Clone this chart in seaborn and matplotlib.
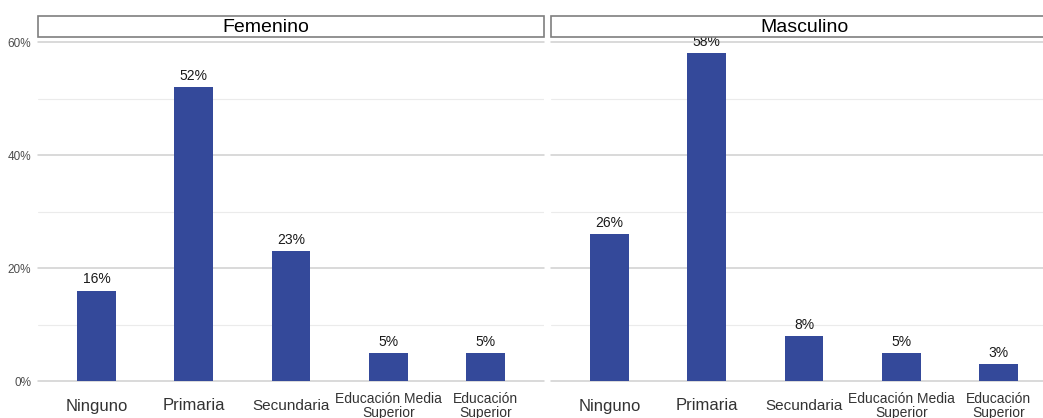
import matplotlib
matplotlib.use('Agg')
import matplotlib.pyplot as plt
from matplotlib.patches import Rectangle
import pandas as pd
import seaborn as sns

# Data
niveles = ['Ninguno', 'Primaria', 'Secundaria', 'Educación Media\nSuperior', 'Educación\nSuperior']
femenino = [16, 52, 23, 5, 5]
masculino = [26, 58, 8, 5, 3]
paneles = ['Femenino', 'Masculino']
y_ticks = [0, 20, 40, 60]
y_minor = [10, 30, 50]

# per-label font size, the reference shrinks the longer labels
label_sizes = [12, 12, 11, 10, 10]

BAR_COLOR = '#34499a'

sns.set_theme(style='white')
plt.rcParams['font.family'] = ['Liberation Sans', 'DejaVu Sans']

W, H = 1043, 418
fig = plt.figure(figsize=(W / 100, H / 100), dpi=100)


def px_box(x0, x1, y_top, y_bottom):
    # convert pixel box to figure fraction [left, bottom, width, height]
    return [x0 / W, (H - y_bottom) / H, (x1 - x0) / W, (y_bottom - y_top) / H]


panel_x = [(38, 544), (551, 1057)]
# strip title centres (px); the reference has "Femenino" a bit left of centre
title_x = [266, 804]
data = {'Femenino': femenino, 'Masculino': masculino}

for i, panel in enumerate(paneles):
    x0, x1 = panel_x[i]
    ax = fig.add_axes(px_box(x0, x1, 39.2, 381))
    df = pd.DataFrame({'nivel': niveles, 'pct': data[panel]})
    sns.barplot(data=df, x='nivel', y='pct', order=niveles, color=BAR_COLOR,
                saturation=1, width=0.4, linewidth=0, ax=ax, zorder=3)

    ax.set_xlim(-0.6, len(niveles) - 0.4)
    ax.set_ylim(0, 60.5)

    # grid lines
    for v in y_minor:
        ax.axhline(v, color='#ebebeb', lw=0.8, zorder=1)
    for v in y_ticks:
        ax.axhline(v, color='#cfcfcf', lw=1.1, zorder=1, clip_on=False)

    for s in ax.spines.values():
        s.set_visible(False)
    ax.set_xlabel('')
    ax.set_ylabel('')
    ax.set_yticks(y_ticks)
    if i == 0:
        ax.set_yticklabels([f'{v}%' for v in y_ticks], fontsize=8.5, color='#4d4d4d')
    else:
        ax.set_yticklabels([])
    ax.tick_params(axis='y', length=0, pad=5)
    ax.tick_params(axis='x', length=0, pad=18)

    ax.set_xticks(range(len(niveles)))
    ax.set_xticklabels(niveles)
    for lab, fs in zip(ax.get_xticklabels(), label_sizes):
        lab.set_fontsize(fs)
        lab.set_verticalalignment('center')
        lab.set_linespacing(1.0)
        lab.set_color('#333333')

    # value labels over the bars
    for j, v in enumerate(data[panel]):
        ax.annotate(f'{v}%', xy=(j, v), xytext=(0, 3), textcoords='offset points',
                    ha='center', va='bottom', fontsize=10, color='#1a1a1a')

    # strip header
    sx = px_box(x0, x1, 15.5, 36.5)
    fig.patches.append(Rectangle((sx[0], sx[1]), sx[2], sx[3], transform=fig.transFigure,
                                 facecolor='white', edgecolor='#7f7f7f', lw=1.2))
    fig.text(title_x[i] / W, (H - 27.5) / H, panel, ha='center', va='center',
             fontsize=14, color='black')

fig.savefig('out.png', dpi=100)
